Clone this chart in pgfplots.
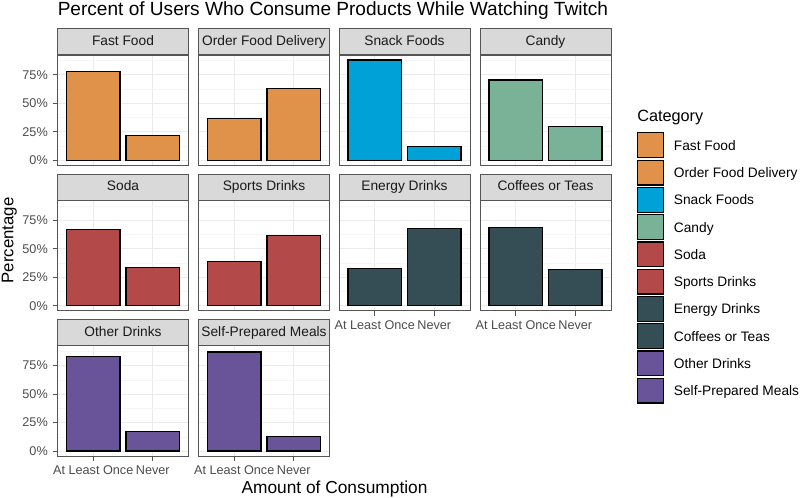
\documentclass[border=0pt]{standalone}
\usepackage{pgfplots}
\pgfplotsset{compat=1.18}
\usepackage{fontspec}
\setmainfont{Liberation Sans}

\definecolor{cOrange}{HTML}{E0914A}
\definecolor{cBlue}{HTML}{00A1D6}
\definecolor{cGreen}{HTML}{7AB298}
\definecolor{cRed}{HTML}{B4494A}
\definecolor{cSlate}{HTML}{354D54}
\definecolor{cPurple}{HTML}{6A5499}
\definecolor{frame}{HTML}{555555}
\definecolor{stripbg}{HTML}{D9D9D9}
\definecolor{ticktext}{HTML}{4D4D4D}

% one facet: width/height in pt, 1px = 0.75pt
\pgfplotsset{
  panel/.style={
    width=98.25pt, height=82.7pt, scale only axis, anchor=south west,
    xmin=0.4, xmax=2.6, ymin=-0.044, ymax=0.924,
    xtick={1,2}, ytick={0,0.25,0.5,0.75},
    minor ytick={0.125,0.375,0.625,0.875},
    grid=both,
    major grid style={draw=black!8, line width=0.6pt},
    minor grid style={draw=black!4, line width=0.35pt},
    axis line style={draw=frame, line width=0.6pt},
    tick align=outside, xtick pos=bottom, ytick pos=left,
    major tick length=3.75pt, minor tick length=0pt,
    tick style={draw=frame, line width=0.6pt},
    ticklabel style={text=ticktext, font=\fontsize{9.5}{11}\selectfont},
    ybar, bar width=0.9,
    every axis title shift=0pt,
    title style={at={(0.5,1)}, anchor=south,
      draw=frame, fill=stripbg, line width=0.6pt,
      minimum width=98.25pt, minimum height=19.3pt, inner sep=0pt,
      text height=7.4pt, text depth=2.1pt,
      text=black!90, font=\fontsize{10.3}{12}\selectfont},
  },
  ylab/.style={yticklabels={0\%,25\%,50\%,75\%}},
  ynolab/.style={yticklabels={}, ytick style={draw=none}},
  xlab/.style={xticklabels={At Least Once,Never}},
  xnolab/.style={xticklabels={}, xtick style={draw=none}},
}

% #1 left px, #2 bottom px (from top), #3 strip, #4 colour, #5 y style, #6 x style, #7 coords
\newcommand{\panel}[7]{%
\begin{axis}[panel, at={({#1*0.75pt},{(498-#2)*0.75pt})}, title={#3}, #5, #6]
\addplot[fill=#4, draw=black, line width=0.9pt] coordinates {#7};
\end{axis}}

\begin{document}
\begin{tikzpicture}
\path[use as bounding box, fill=white] (0,0) rectangle (600pt,373.5pt);

\panel{57.5}{165.3}{Fast Food}{cOrange}{ylab}{xnolab}{(1,0.78) (2,0.22)}
\panel{198.5}{165.3}{Order Food Delivery}{cOrange}{ynolab}{xnolab}{(1,0.37) (2,0.63)}
\panel{339}{165.3}{Snack Foods}{cBlue}{ynolab}{xnolab}{(1,0.88) (2,0.12)}
\panel{480}{165.3}{Candy}{cGreen}{ynolab}{xnolab}{(1,0.705) (2,0.295)}

\panel{57.5}{310.7}{Soda}{cRed}{ylab}{xnolab}{(1,0.667) (2,0.333)}
\panel{198.5}{310.7}{Sports Drinks}{cRed}{ynolab}{xnolab}{(1,0.385) (2,0.615)}
\panel{339}{310.7}{Energy Drinks}{cSlate}{ynolab}{xlab}{(1,0.325) (2,0.675)}
\panel{480}{310.7}{Coffees or Teas}{cSlate}{ynolab}{xlab}{(1,0.685) (2,0.315)}

\panel{57.5}{456.1}{Other Drinks}{cPurple}{ylab}{xlab}{(1,0.83) (2,0.17)}
\panel{198.5}{456.1}{Self-Prepared Meals}{cPurple}{ynolab}{xlab}{(1,0.87) (2,0.13)}

% legend
\begin{axis}[at={({637*0.75pt},{(498-132.3)*0.75pt})}, anchor=south west,
  hide axis, scale only axis, width=10pt, height=10pt,
  xmin=0, xmax=1, ymin=0, ymax=1,
  legend style={at={(0,0)}, anchor=north west, draw=none, fill=none,
    inner sep=0pt, outer sep=0pt, row sep=0.95pt,
    nodes={inner sep=0pt, text height=7.5pt, text depth=0pt,
      font=\fontsize{10.3}{12}\selectfont},
    /tikz/every odd column/.append style={column sep=7.6pt}},
  legend cell align=left,
  legend image code/.code={\draw[#1] (0pt,-9.3pt) rectangle (19.2pt,9.3pt);}]
\addlegendimage{fill=cOrange, draw=black, line width=0.9pt}
\addlegendentry{Fast Food}
\addlegendimage{fill=cOrange, draw=black, line width=0.9pt}
\addlegendentry{Order Food Delivery}
\addlegendimage{fill=cBlue, draw=black, line width=0.9pt}
\addlegendentry{Snack Foods}
\addlegendimage{fill=cGreen, draw=black, line width=0.9pt}
\addlegendentry{Candy}
\addlegendimage{fill=cRed, draw=black, line width=0.9pt}
\addlegendentry{Soda}
\addlegendimage{fill=cRed, draw=black, line width=0.9pt}
\addlegendentry{Sports Drinks}
\addlegendimage{fill=cSlate, draw=black, line width=0.9pt}
\addlegendentry{Energy Drinks}
\addlegendimage{fill=cSlate, draw=black, line width=0.9pt}
\addlegendentry{Coffees or Teas}
\addlegendimage{fill=cPurple, draw=black, line width=0.9pt}
\addlegendentry{Other Drinks}
\addlegendimage{fill=cPurple, draw=black, line width=0.9pt}
\addlegendentry{Self-Prepared Meals}
\end{axis}

\node[anchor=base west, inner sep=0pt, font=\fontsize{12.2}{14}\selectfont]
  at ({637*0.75pt},{(498-121.7)*0.75pt}) {Category};
\node[anchor=base west, inner sep=0pt, font=\fontsize{14.3}{17}\selectfont]
  at ({57.5*0.75pt},{(498-15.7)*0.75pt}) {Percent of Users Who Consume Products While Watching Twitch};
\node[anchor=base, inner sep=0pt, font=\fontsize{13.0}{15}\selectfont]
  at ({334.5*0.75pt},{(498-493.3)*0.75pt}) {Amount of Consumption};
\node[anchor=base, rotate=90, inner sep=0pt, font=\fontsize{12.6}{15}\selectfont]
  at ({13.3*0.75pt},{(498-240.5)*0.75pt}) {Percentage};
\end{tikzpicture}
\end{document}
